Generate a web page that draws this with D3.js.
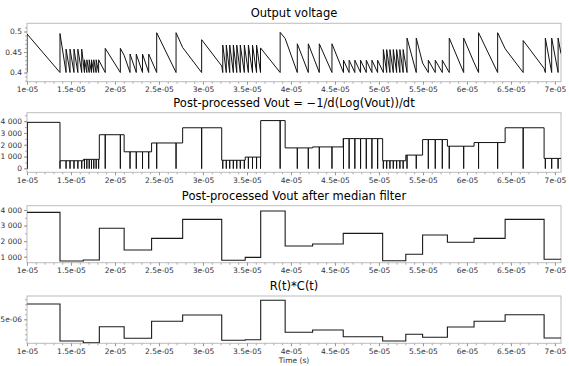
<!DOCTYPE html>
<html>
<head>
<meta charset="utf-8">
<script src="https://cdn.jsdelivr.net/npm/d3@7"></script>
<style>
  html, body { margin: 0; padding: 0; background: #fff; }
  svg { display: block; font-family: "DejaVu Sans", sans-serif; }
</style>
</head>
<body>
<svg id="chart" width="569" height="366"></svg>
<script>
// ---- data (times in microseconds) ----
const segmentStarts = [10.0, 13.75, 16.40, 18.22, 21.04, 24.16, 27.69, 32.13, 34.80, 36.56,
                       39.34, 42.46, 45.94, 50.42, 53.05, 54.96, 57.78, 60.81, 64.34, 68.77];
const endTime = 70.69;

// raw -1/d(log V)/dt level in each segment
const rawLevels = [3900, 640, 760, 2850, 1400, 2150, 3440, 680, 950, 4050,
                   1730, 1815, 2520, 640, 1120, 2440, 1875, 2185, 3440, 840];
// the same quantity after the median filter
const medianLevels = [3850, 724, 788, 2824, 1430, 2180, 3400, 770, 960, 3935,
                      1687, 1815, 2500, 743, 1154, 2394, 1925, 2180, 3400, 833];
// R(t)*C(t) in each segment (seconds)
const rcValues = [8.06e-6, 0.66e-6, 0.32e-6, 3.52e-6, 1.2e-6, 4.6e-6, 5.86e-6, 0.8e-6, 0.92e-6, 8.8e-6,
                  2.4e-6, 2.86e-6, 1.52e-6, 0.66e-6, 2.0e-6, 1.4e-6, 3.46e-6, 4.6e-6, 5.92e-6, 1.26e-6];

// output voltage: each recharge instant and the peak it reaches
const riseTimes = [10.0,
  13.75, 14.44, 14.89, 15.34, 15.78, 16.22,
  16.53, 16.80, 17.07, 17.33, 17.59, 17.86, 18.14,
  18.89, 20.61,
  21.71, 22.42, 23.13, 23.83,
  24.74, 26.94,
  29.85,
  32.25, 32.65, 33.04, 33.45, 33.84, 34.24,
  34.70, 35.16, 35.63, 36.09,
  36.54, 38.77,
  40.72, 41.97, 43.22, 44.66,
  45.97, 46.61, 47.26, 47.91, 48.56, 49.20, 49.85,
  50.50, 50.88, 51.25, 51.63, 52.01, 52.38, 52.75,
  53.19, 54.24,
  55.61, 56.40, 57.20,
  57.99, 59.63,
  61.32, 63.49,
  66.39,
  68.91, 69.63, 70.36];
const peakVolts = [0.494,
  0.495, 0.457, 0.457, 0.457, 0.457, 0.457,
  0.431, 0.431, 0.431, 0.431, 0.431, 0.431, 0.431,
  0.459, 0.459,
  0.445, 0.445, 0.445, 0.445,
  0.497, 0.497,
  0.480,
  0.467, 0.467, 0.467, 0.467, 0.467, 0.467,
  0.467, 0.467, 0.467, 0.467,
  0.460, 0.498,
  0.470, 0.470, 0.470, 0.470,
  0.430, 0.430, 0.430, 0.430, 0.430, 0.430, 0.430,
  0.456, 0.456, 0.456, 0.456, 0.456, 0.456, 0.456,
  0.484, 0.484,
  0.430, 0.430, 0.430,
  0.484, 0.484,
  0.497, 0.497,
  0.478,
  0.484, 0.484, 0.484];
// where the decay rate changes part-way through a discharge
const kinkTimes = [21.04, 27.69, 32.13, 39.34, 54.96, 60.81, 64.34, 68.77];
const kinkVolts = [0.442, 0.461, 0.416, 0.483, 0.423, 0.424, 0.458, 0.410];
const troughVolt = 0.4;
const endVolt = 0.446;
const spikeLevel = -30;

// axis ticks
const xTickValues = [1e-5, 1.5e-5, 2e-5, 2.5e-5, 3e-5, 3.5e-5, 4e-5, 4.5e-5, 5e-5, 5.5e-5, 6e-5, 6.5e-5, 7e-5];
const xTickLabels = ["1e-05", "1.5e-05", "2e-05", "2.5e-05", "3e-05", "3.5e-05", "4e-05",
                     "4.5e-05", "5e-05", "5.5e-05", "6e-05", "6.5e-05", "7e-05"];
const voltTicks = [0.4, 0.45, 0.5];
const voltTickLabels = ["0.4", "0.45", "0.5"];
const rawTicks = [0, 1000, 2000, 3000, 4000];
const medianTicks = [1000, 2000, 3000, 4000];
const rcTicks = [5e-6];
const rcTickLabels = ["5e-06"];

const titles = ["Output voltage",
                "Post-processed Vout = \u22121/d(Log(Vout))/dt",
                "Post-processed Vout after median filter",
                "R(t)*C(t)"];
const xAxisTitle = "Time (s)";

// ---- drawing ----
const svg = d3.select("#chart");
const left = 27, right = 561;
const x = d3.scaleLinear().domain([10e-6, endTime * 1e-6]).range([left, right]);
const xs = t => x(t * 1e-6);

const spaceFmt = d3.formatLocale({ decimal: ".", thousands: "\u00a0", grouping: [3], currency: ["", ""] }).format(",");

const panels = [
  { top: 23.3, bottom: 81.7, domain: [0.3776, 0.52], ticks: voltTicks, labels: voltTickLabels,
    minor: d3.range(38, 52).map(v => v / 100) },
  { top: 112.7, bottom: 172.3, domain: [-340, 4720], ticks: rawTicks, labels: rawTicks.map(spaceFmt),
    minor: d3.range(0, 4700, 500) },
  { top: 205.7, bottom: 262.7, domain: [615, 4276], ticks: medianTicks, labels: medianTicks.map(spaceFmt),
    minor: d3.range(1000, 4300, 500) },
  { top: 296, bottom: 343.3, domain: [0.2e-6, 9.66e-6], ticks: rcTicks, labels: rcTickLabels,
    minor: d3.range(1, 10).map(v => v * 1e-6) }
];

const xMinor = d3.range(10, 71, 1).map(v => v * 1e-6);

panels.forEach((p, i) => {
  p.y = d3.scaleLinear().domain(p.domain).range([p.bottom, p.top]);
  const g = svg.append("g");

  // title
  g.append("text")
    .attr("x", (left + right) / 2).attr("y", p.top - 6)
    .attr("text-anchor", "middle")
    .attr("font-size", 11.5).attr("fill", "#000")
    .text(titles[i]);

  // frame
  g.append("rect")
    .attr("x", left).attr("y", p.top)
    .attr("width", right - left).attr("height", p.bottom - p.top)
    .attr("fill", "none").attr("stroke", "#bcbcbc").attr("stroke-width", 1);

  // x axis, minor then major ticks
  const xMinorAxis = d3.axisBottom(x).tickValues(xMinor).tickSize(2).tickFormat("");
  g.append("g").attr("transform", `translate(0,${p.bottom})`).call(xMinorAxis)
    .call(a => a.select(".domain").remove())
    .call(a => a.selectAll("line").attr("stroke", "#aaa"));
  const xAxis = d3.axisBottom(x).tickValues(xTickValues).tickSize(3).tickPadding(2)
    .tickFormat((d, k) => xTickLabels[k]);
  g.append("g").attr("transform", `translate(0,${p.bottom})`).call(xAxis)
    .call(a => a.select(".domain").remove())
    .call(a => a.selectAll("line").attr("stroke", "#999"))
    .call(a => a.selectAll("text").attr("font-size", 7.5).attr("fill", "#333")
      .attr("font-family", "DejaVu Sans, sans-serif"));

  // y axis
  const yMinorAxis = d3.axisLeft(p.y).tickValues(p.minor.filter(v => v >= p.domain[0] && v <= p.domain[1]))
    .tickSize(2).tickFormat("");
  g.append("g").attr("transform", `translate(${left},0)`).call(yMinorAxis)
    .call(a => a.select(".domain").remove())
    .call(a => a.selectAll("line").attr("stroke", "#aaa"));
  const yAxis = d3.axisLeft(p.y).tickValues(p.ticks).tickSize(3).tickPadding(2)
    .tickFormat((d, k) => p.labels[k]);
  g.append("g").attr("transform", `translate(${left},0)`).call(yAxis)
    .call(a => a.select(".domain").remove())
    .call(a => a.selectAll("line").attr("stroke", "#999"))
    .call(a => a.selectAll("text").attr("font-size", 7.5).attr("fill", "#333")
      .attr("font-family", "DejaVu Sans, sans-serif"));
});

// clip each series to its frame
panels.forEach((p, i) => {
  svg.append("clipPath").attr("id", "clip" + i)
    .append("rect").attr("x", left).attr("y", p.top)
    .attr("width", right - left).attr("height", p.bottom - p.top);
});

// 1) output voltage sawtooth
const voltPts = [];
riseTimes.forEach((t, i) => {
  voltPts.push([t, troughVolt], [t, peakVolts[i]]);
  const next = i + 1 < riseTimes.length ? riseTimes[i + 1] : endTime;
  kinkTimes.forEach((k, j) => { if (k > t && k < next) voltPts.push([k, kinkVolts[j]]); });
  voltPts.push(i + 1 < riseTimes.length ? [next, troughVolt] : [endTime, endVolt]);
});
svg.append("path")
  .attr("clip-path", "url(#clip0)")
  .attr("d", d3.line().x(d => xs(d[0])).y(d => panels[0].y(d[1]))(voltPts))
  .attr("fill", "none").attr("stroke", "#111").attr("stroke-width", 1).attr("stroke-linejoin", "miter");

// 2) raw derivative: segment levels with a dip at every recharge
const events = [];
segmentStarts.forEach((t, k) => events.push({ t, step: true, k }));
riseTimes.forEach(t => events.push({ t, step: false }));
events.sort((a, b) => a.t - b.t || (a.step ? -1 : 1));
let level = rawLevels[0];
const rawPts = [[segmentStarts[0], spikeLevel]];
events.forEach(e => {
  if (e.step) {
    rawPts.push([e.t, level]);
    level = rawLevels[e.k];
    rawPts.push([e.t, level]);
  } else {
    rawPts.push([e.t, level], [e.t, spikeLevel], [e.t, level]);
  }
});
rawPts.push([endTime, level]);
svg.append("path")
  .attr("clip-path", "url(#clip1)")
  .attr("d", d3.line().x(d => xs(d[0])).y(d => panels[1].y(d[1]))(rawPts))
  .attr("fill", "none").attr("stroke", "#111").attr("stroke-width", 1);

// 3) and 4) step series
function stepSeries(values, panelIndex) {
  const pts = segmentStarts.map((t, k) => [t, values[k]]);
  pts.push([endTime, values[values.length - 1]]);
  svg.append("path")
    .attr("clip-path", `url(#clip${panelIndex})`)
    .attr("d", d3.line().curve(d3.curveStepAfter)
      .x(d => xs(d[0])).y(d => panels[panelIndex].y(d[1]))(pts))
    .attr("fill", "none").attr("stroke", "#1a1a1a").attr("stroke-width", 1.1);
}
stepSeries(medianLevels, 2);
stepSeries(rcValues, 3);

// x axis title under the last panel
svg.append("text")
  .attr("x", (left + right) / 2).attr("y", 362.5)
  .attr("text-anchor", "middle").attr("font-size", 7.5).attr("fill", "#333")
  .text(xAxisTitle);
</script>
</body>
</html>
